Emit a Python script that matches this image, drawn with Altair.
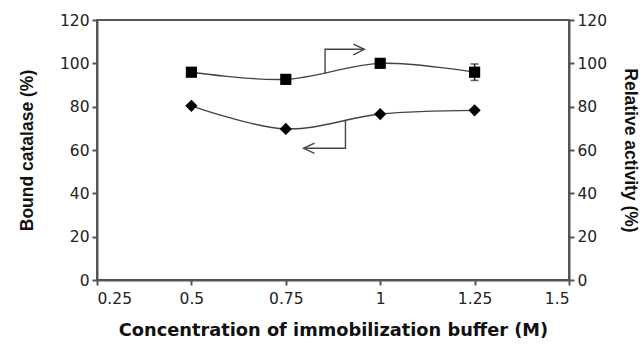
import altair as alt
import pandas as pd

# Data
conc = [0.5, 0.75, 1.0, 1.25]
bound = [80.4, 69.7, 76.6, 78.3]          # diamonds, left axis
activity = [95.9, 92.6, 100.0, 95.9]      # squares, right axis
activity_err = [0.0, 0.0, 0.0, 3.8]

x_ticks = [0.25, 0.5, 0.75, 1.0, 1.25, 1.5]
y_ticks = [0, 20, 40, 60, 80, 100, 120]

# annotation arrows (data coordinates)
up_arrow_x = [0.854, 0.854, 0.958]
up_arrow_y = [95.2, 106.5, 106.5]
up_head_x = [0.929, 0.958, 0.929]
up_head_y = [108.9, 106.5, 103.9]
low_arrow_x = [0.908, 0.908, 0.797]
low_arrow_y = [73.8, 60.8, 60.8]
low_head_x = [0.826, 0.797, 0.826]
low_head_y = [63.2, 60.8, 58.4]

df = pd.DataFrame({"x": conc, "bound": bound, "act": activity,
                   "lo": [a - e for a, e in zip(activity, activity_err)],
                   "hi": [a + e for a, e in zip(activity, activity_err)]})

def arrow_df(xs, ys, hx, hy):
    rows = []
    for i, (a, b) in enumerate(zip(xs, ys)):
        rows.append({"x": a, "y": b, "g": "shaft", "o": i})
    for i, (a, b) in enumerate(zip(hx, hy)):
        rows.append({"x": a, "y": b, "g": "head", "o": i})
    return pd.DataFrame(rows)

up_df = arrow_df(up_arrow_x, up_arrow_y, up_head_x, up_head_y)
low_df = arrow_df(low_arrow_x, low_arrow_y, low_head_x, low_head_y)

AX = "#555555"
LFONT = "DejaVu Sans"
TFONT = "Liberation Sans"

xscale = alt.Scale(domain=[0.25, 1.5], nice=False, zero=False)
xaxis = alt.Axis(values=x_ticks, labelExpr="'' + datum.value",
                 title="Concentration of immobilization buffer (M)",
                 grid=False, domainColor=AX, domainWidth=2, tickColor=AX, tickWidth=2, tickSize=5,
                 labelFontSize=15.5, labelColor="#222", labelPadding=6,
                 titleFontSize=17.8, titleFontWeight="bold", titleColor="#111", titlePadding=15,
                 labelFont=LFONT, titleFont=LFONT)
yscale = alt.Scale(domain=[0, 120], nice=False)

def yaxis(title, orient, tpad):
    return alt.Axis(values=y_ticks, title=title, orient=orient, grid=False,
                    domainColor=AX, domainWidth=2, tickColor=AX, tickWidth=2, tickSize=5,
                    labelFontSize=15.5, labelColor="#222", labelPadding=3,
                    titleFontSize=17.5, titleFontWeight="bold", titleColor="#111", titlePadding=tpad,
                    labelFont=LFONT, titleFont=TFONT)

LT = "Bound catalase (%)"
RT = "Relative activity (%)"

base = alt.Chart(df)
x_enc = alt.X("x:Q", scale=xscale, axis=xaxis)

line_d = base.mark_line(interpolate="catmull-rom", color="#444", strokeWidth=1.4).encode(
    x=x_enc, y=alt.Y("bound:Q", scale=yscale, axis=yaxis(LT, "left", 23), title=LT))
pts_d = base.mark_point(shape="diamond", filled=True, size=150, color="black", opacity=1).encode(
    x=x_enc, y=alt.Y("bound:Q", scale=yscale, title=LT))
arr_low = alt.Chart(low_df).mark_line(color="#444", strokeWidth=1.4).encode(
    x=alt.X("x:Q", scale=xscale), y=alt.Y("y:Q", scale=yscale, title=LT),
    detail="g:N", order="o:Q")

left = alt.layer(line_d, pts_d, arr_low)

line_s = base.mark_line(interpolate="catmull-rom", color="#444", strokeWidth=1.4).encode(
    x=x_enc, y=alt.Y("act:Q", scale=yscale, axis=yaxis(RT, "right", 14), title=RT))
err_s = base.mark_errorbar(ticks=alt.TickConfig(size=8, color="#222", thickness=1.5),
                           rule=alt.MarkConfig(color="#222", strokeWidth=1.5)).encode(
    x=x_enc, y=alt.Y("lo:Q", scale=yscale, title=RT), y2="hi:Q")
pts_s = base.mark_point(shape="square", filled=True, size=125, color="black", opacity=1).encode(
    x=x_enc, y=alt.Y("act:Q", scale=yscale, title=RT))
arr_up = alt.Chart(up_df).mark_line(color="#444", strokeWidth=1.4).encode(
    x=alt.X("x:Q", scale=xscale), y=alt.Y("y:Q", scale=yscale, title=RT),
    detail="g:N", order="o:Q")

right = alt.layer(line_s, err_s, pts_s, arr_up)

chart = alt.layer(left, right).resolve_scale(y="independent").properties(
    width=472, height=260,
    autosize=alt.AutoSizeParams(type="none"),
    padding={"left": 97, "top": 20, "right": 75, "bottom": 76},
    background="white",
).configure_view(stroke=AX, strokeWidth=2)

chart.save("out.html", embed_options={"renderer": "svg", "actions": False})
